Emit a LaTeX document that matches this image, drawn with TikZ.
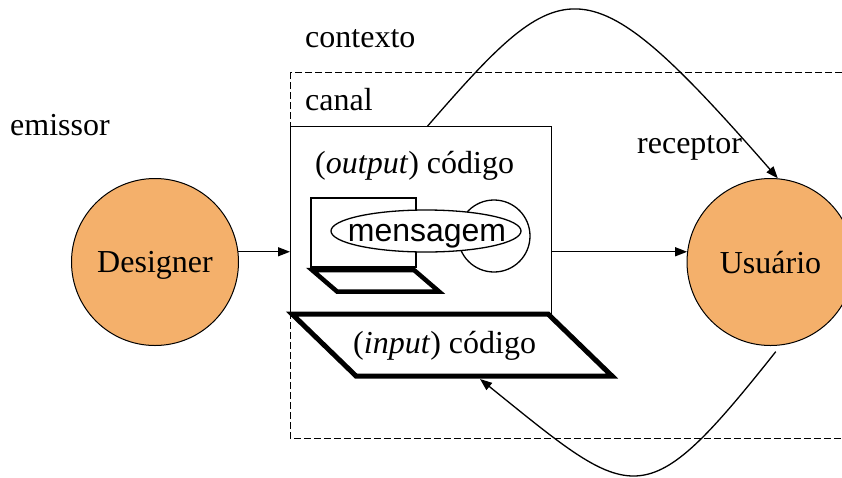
\documentclass[tikz,border=0pt]{standalone}
\usepackage{fontspec}
\setmainfont{Liberation Serif}
\newfontfamily\arialfont{Liberation Sans}
\usetikzlibrary{arrows.meta}
\definecolor{orangefill}{RGB}{244,176,107}
\begin{document}
\begin{tikzpicture}[x=1pt,y=-1pt,
  every node/.style={font=\fontsize{32}{38}\selectfont, inner sep=0pt},
  lbl/.style={anchor=base west},
  actor/.style={circle, draw, line width=1pt, fill=orangefill, minimum size=167pt, text depth=0pt},
  thinline/.style={line width=1.3pt},
  thickbox/.style={line width=5pt, line join=miter, fill=white},
  smallbox/.style={line width=4.5pt, line join=miter},
  arr/.style={line width=1.3pt, -{Triangle[length=12pt,width=9pt]}},
  ctx/.style={line width=1pt, dash pattern=on 7pt off 3pt}]
\useasboundingbox (0,0) rectangle (842,477);
\fill[white] (0,0) rectangle (842,477);

% context (dashed)
\draw[ctx] (290,72) rectangle (870,438);

% labels
\node[lbl] (lctx) at (305,47) {contexto};
\node[lbl] (lcan) at (305,110) {canal};
\node[lbl] (lemi) at (10,135) {emissor};
\node[lbl] (lrec) at (637,153) {receptor};

% actors
\node[actor] (des) at (155,262) {Designer};
\node[actor] (usu) at (770.5,262) {Usuário};

% channel box
\node[draw, thinline, minimum width=261pt, minimum height=187pt, anchor=north west] (canal) at (290,126) {};
\node[lbl] (outc) at (315,173) {(\textit{output}) código};

% input code parallelogram
\draw[thickbox] (292,314) -- (548,314) -- (612,376) -- (356,376) -- cycle;
\node[lbl] (inc) at (353,353) {(\textit{input}) código};
\coordinate (inb) at (480,379);

% message group
\draw[thinline] (311,198) rectangle (416,267);
\draw[thinline] (494,236) circle[radius=36pt];
\draw[thinline, fill=white] (426,231) ellipse[x radius=95pt, y radius=21pt];
\node[anchor=base] (msg) at (427,241) {\arialfont mensagem};
\draw[smallbox] (312,270) -- (414,270) -- (439,291.5) -- (337,291.5) -- cycle;

% connectors
\draw[arr] (des.7) -- (des.7 -| canal.west);
\draw[arr] (canal.east |- usu.173) -- (usu.173);
\draw[arr] ([xshift=6.5pt]canal.north) .. controls (565,-32) and (585,-42) .. (usu.85);
\draw[arr, shorten <=8pt] (usu.-83) .. controls (643,519) and (635,504) .. (inb);
\end{tikzpicture}
\end{document}
